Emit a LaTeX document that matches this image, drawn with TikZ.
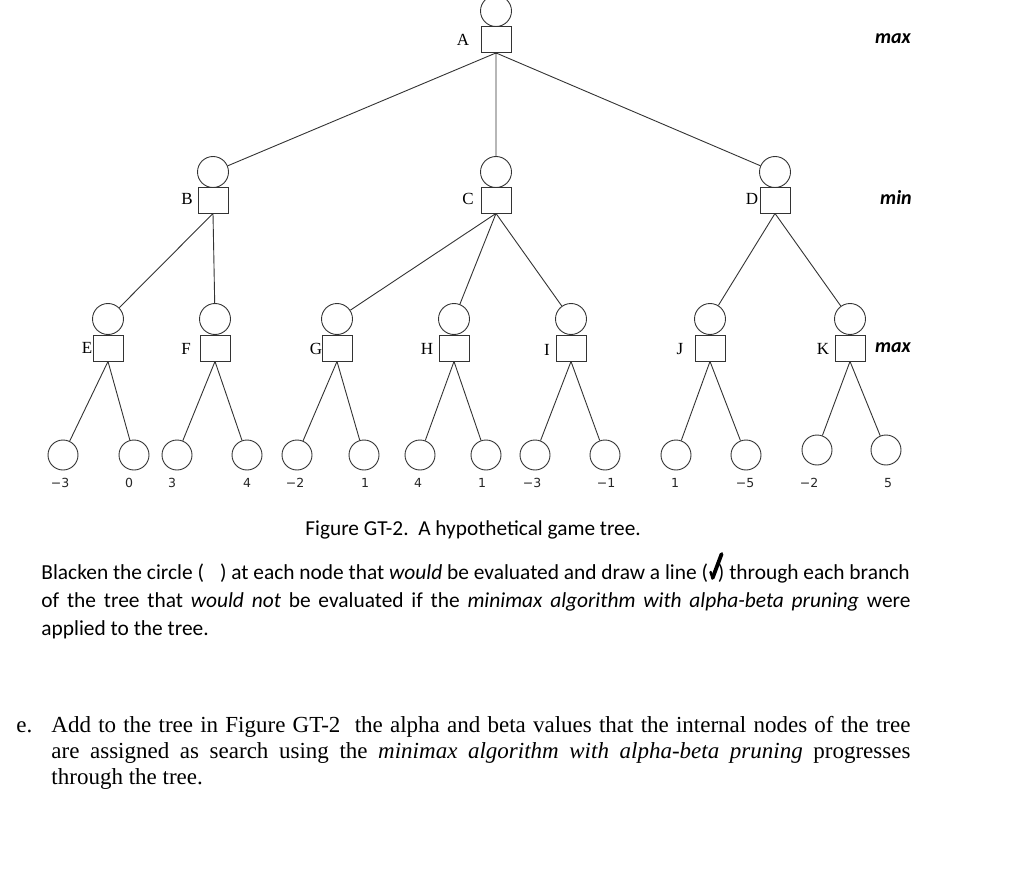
\documentclass[tikz,border=0pt]{standalone}
\usepackage{fontspec}
\setmainfont{Liberation Serif}
\newfontfamily\calfont{Carlito}
\newfontfamily\numfont{DejaVu Sans}
\begin{document}
\begin{tikzpicture}[x=1pt,y=-1pt,
  every path/.style={line width=0.9pt},
  circ/.style={circle,draw=black!80,minimum size=31pt,inner sep=0pt},
  sq/.style={rectangle,draw=black!80,minimum width=30pt,minimum height=26pt,inner sep=0pt},
  edge/.style={draw=black!80,line width=0.9pt},
  nlab/.style={font=\fontsize{17}{19}\selectfont,inner sep=0pt},
  vlab/.style={font=\numfont\fontsize{12.5}{14}\selectfont,inner sep=0pt,text=black!85},
  lvl/.style={font=\calfont\fontsize{20}{22}\selectfont\bfseries\itshape,inner sep=0pt},
  para/.style={font=\calfont\fontsize{21.4}{24}\selectfont,inner sep=0pt,anchor=base west},
  tpara/.style={font=\fontsize{23}{26}\selectfont,inner sep=0pt,anchor=base west}]
\useasboundingbox (0,0) rectangle (1024,882);
% internal nodes: circle above square
\foreach \n/\x/\cy/\sy in {A/496/11/39.5, B/213/172/200, C/496/172/200, D/775/172/200,
  E/108/319/348, F/215/319/348, G/337/319/348, H/454/319/348, I/571/319/348, J/710/319/348, K/850/319/348}{
  \node[circ] (\n c) at (\x,\cy) {};
  \node[sq] (\n s) at (\x,\sy) {};
}
% node labels
\node[nlab] at (463,40) {A};
\node[nlab] at (187,199) {B};
\node[nlab] at (468,199) {C};
\node[nlab] at (752,199) {D};
\node[nlab] at (87,348) {E};
\node[nlab] at (186,349) {F};
\node[nlab] at (316,349) {G};
\node[nlab] at (427,349) {H};
\node[nlab] at (547,350) {I};
\node[nlab] at (680,349) {J};
\node[nlab] at (823,349) {K};
% level labels
\node[lvl] at (893,39) {max};
\node[lvl] at (896,197) {min};
\node[lvl] at (893,348) {max};
% leaves
\foreach \i/\x/\y in {1/63/455, 2/134/455, 3/177/455, 4/247/455, 5/297/455, 6/364/455, 7/420/455, 8/486/455,
  9/535/455, 10/605/455, 11/676/455, 12/746/455, 13/817/450, 14/886/450}{
  \node[circ,minimum size=30pt] (L\i) at (\x,\y) {};
}
\foreach \i/\x/\v in {1/60/−3, 2/129/0, 3/172/3, 4/247/4, 5/295/−2, 6/365/1, 7/418/4, 8/482/1,
  9/532/−3, 10/606/−1, 11/675/1, 12/745/−5, 13/809/−2, 14/888/5}{
  \node[vlab] (V\i) at (\x,483) {\v};
}
% edges
\draw[edge] (As.south) -- (Bc) (As.south) -- (Cc) (As.south) -- (Dc);
\draw[edge] (Bs.south) -- (Ec) (Bs.south) -- (Fc);
\draw[edge] (Cs.south) -- (Gc) (Cs.south) -- (Hc) (Cs.south) -- (Ic);
\draw[edge] (Ds.south) -- (Jc) (Ds.south) -- (Kc);
\draw[edge] (Es.south) -- (L1) (Es.south) -- (L2);
\draw[edge] (Fs.south) -- (L3) (Fs.south) -- (L4);
\draw[edge] (Gs.south) -- (L5) (Gs.south) -- (L6);
\draw[edge] (Hs.south) -- (L7) (Hs.south) -- (L8);
\draw[edge] (Is.south) -- (L9) (Is.south) -- (L10);
\draw[edge] (Js.south) -- (L11) (Js.south) -- (L12);
\draw[edge] (Ks.south) -- (L13) (Ks.south) -- (L14);
% caption
\node[font=\calfont\fontsize{21.3}{24}\selectfont,inner sep=0pt,anchor=base west] (cap) at (305,535) {Figure GT-2.\ \ A hypothetical game tree.};
% paragraph 1
\node[para] (p1a) at (41,579) {Blacken the circle (\hspace{16pt}) at each node that \textit{would} be evaluated and draw a line (};
\node[para,anchor=base east] (p1b) at (910,579) {) through each branch};
\coordinate (ck) at (p1a.base east);
\draw[line width=2.6pt,line cap=round,black] ([shift={(2,-7)}]ck) -- ([shift={(4,-1)}]ck);
\draw[line width=3.8pt,line cap=round,black] ([shift={(4,-1)}]ck) -- ([shift={(13,-25)}]ck);
\node[para] (p2) at (41,607) {\makebox[869pt][s]{of the tree that \textit{would not} be evaluated if the \textit{minimax algorithm with alpha-beta pruning} were}};
\node[para] (p3) at (41,635) {applied to the tree.};
% paragraph e
\node[tpara] (e) at (16,732) {e.};
\node[tpara] (q1) at (51,732) {\makebox[859pt][s]{Add to the tree in Figure GT-2\ \ the alpha and beta values that the internal nodes of the tree}};
\node[tpara] (q2) at (51,758) {\makebox[859pt][s]{are assigned as search using the \textit{minimax algorithm with alpha-beta pruning} progresses}};
\node[tpara] (q3) at (51,784) {through the tree.};
\end{tikzpicture}
\end{document}
